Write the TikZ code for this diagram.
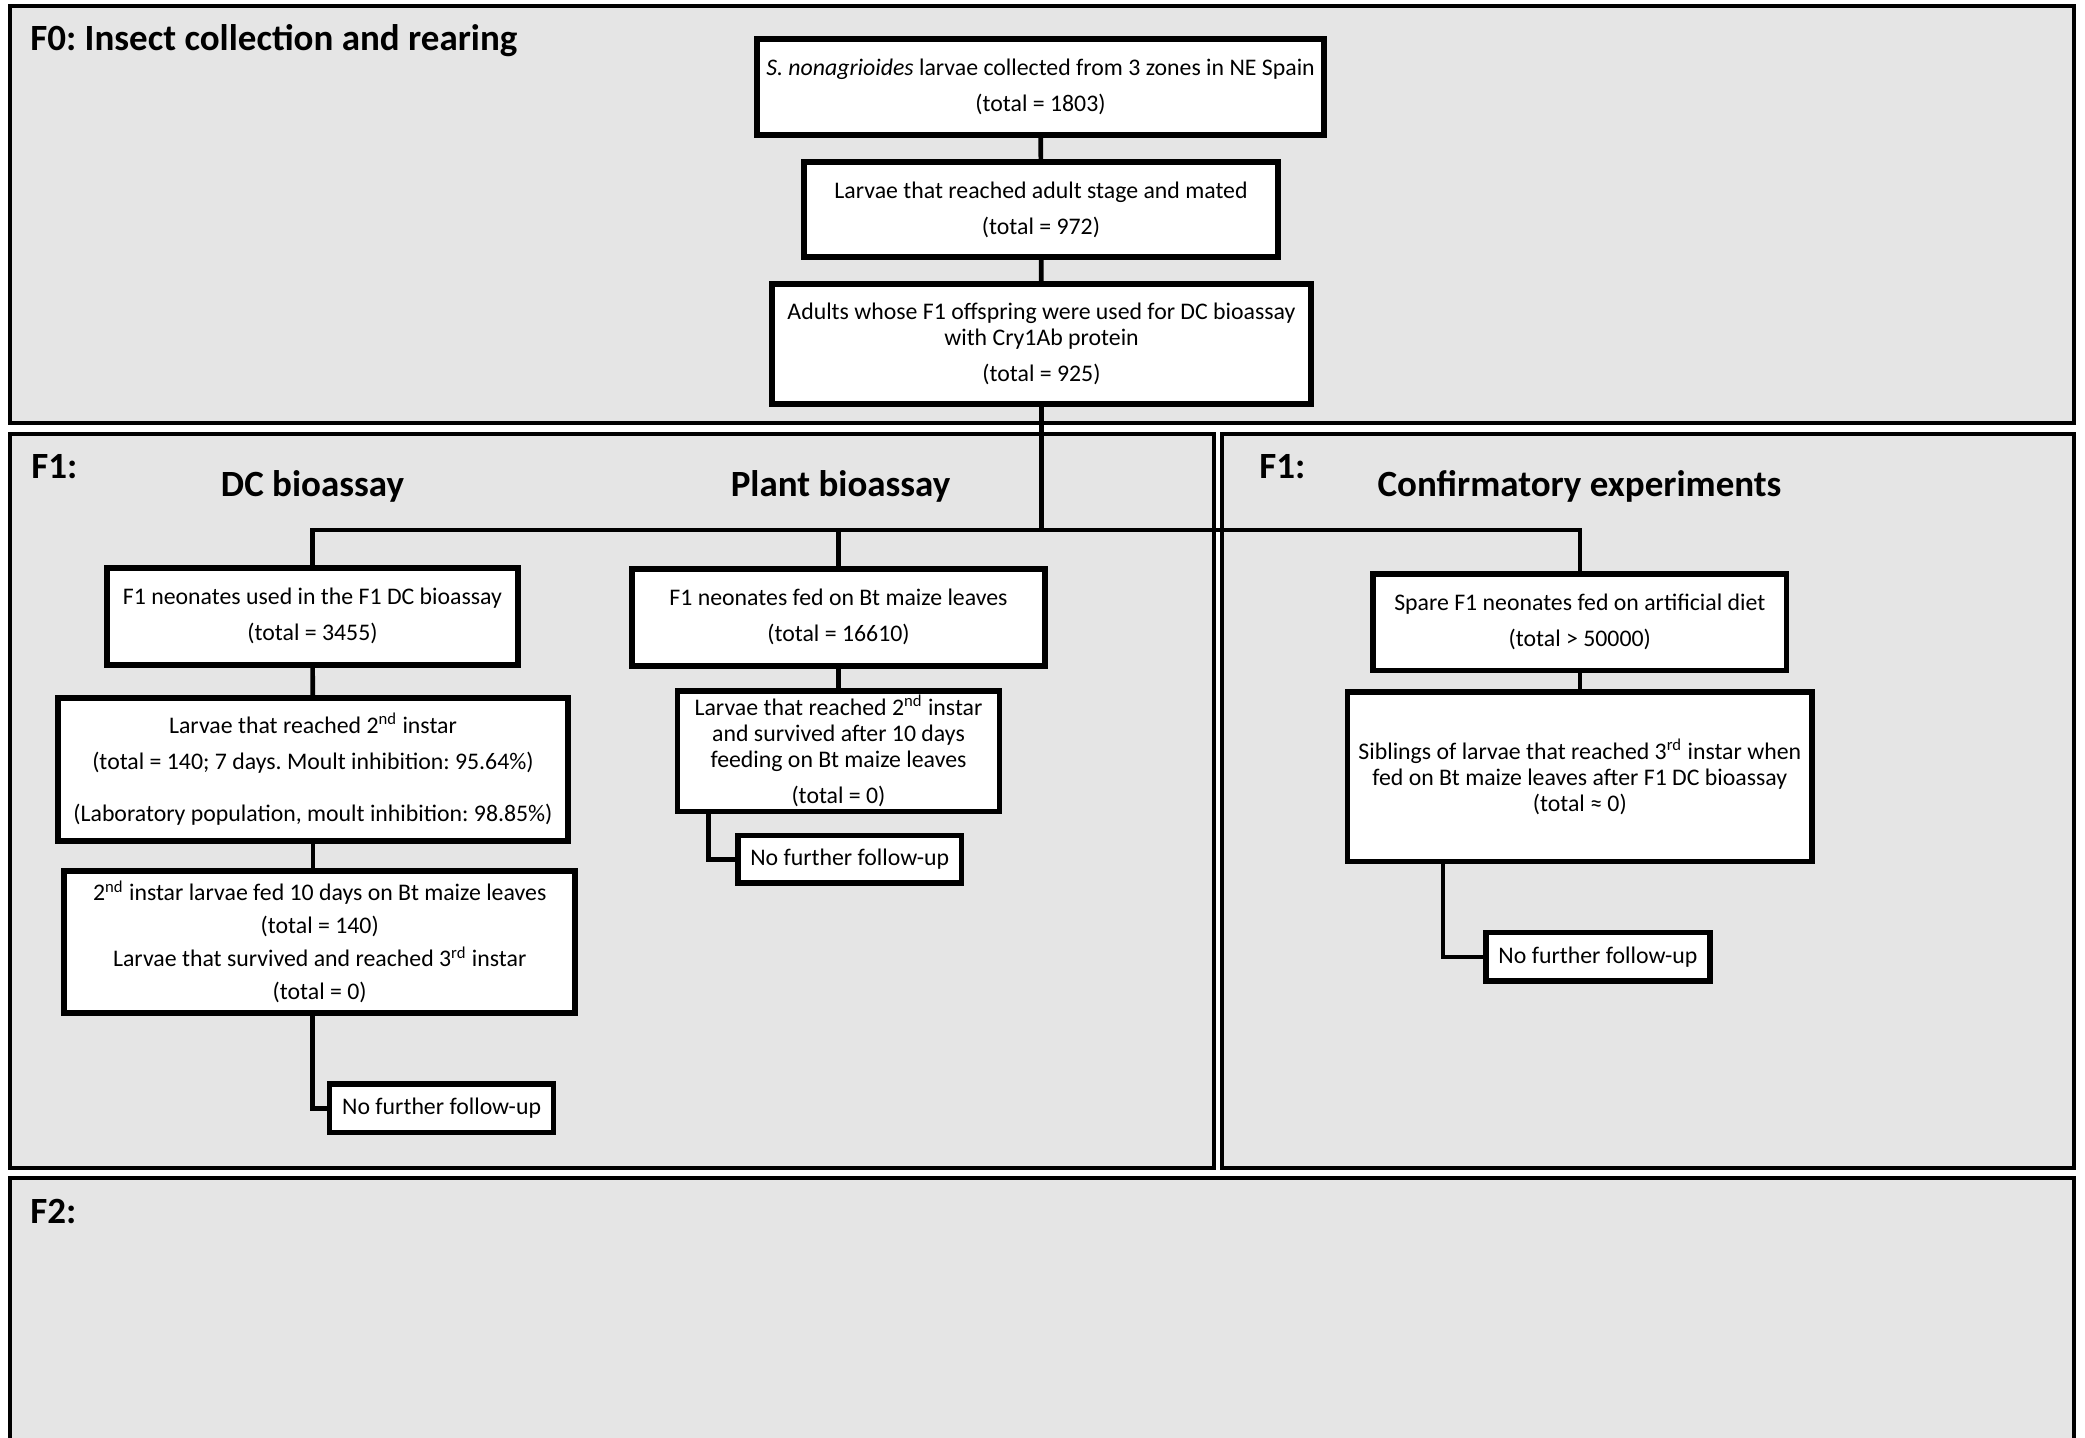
\documentclass[tikz,border=0pt]{standalone}
\usepackage{fontspec}
\setmainfont{Carlito}
\frenchspacing
\definecolor{panelgray}{RGB}{229,229,229}
\tikzset{
 panel/.style={draw,line width=2bp,fill=panelgray},
 box/.style={draw,line width=2.8bp,fill=white,align=center,inner sep=0pt,font=\fontsize{11.9bp}{13bp}\selectfont},
 link/.style={line width=2.3bp},
 head/.style={inner sep=0pt,font=\fontsize{18.5bp}{22bp}\selectfont\bfseries},
}
\begin{document}
\begin{tikzpicture}[x=0.5bp,y=-0.5bp]
\clip (0,0) rectangle (2085,1437);
% panels
\draw[panel] (10,6) rectangle (2074,423);
\draw[panel] (10,434) rectangle (1214,1168);
\draw[panel] (1222,434) rectangle (2074,1168);
\draw[panel] (10,1178) rectangle (2074,1470);
\node[head,anchor=base west] (tf0) at (30,51) {F0: Insect collection and rearing};
\node[head,anchor=base west] (tf1a) at (31,478) {F1:};
\node[head,anchor=base] (tdc) at (312.5,496) {DC bioassay};
\node[head,anchor=base] (tplant) at (840.5,496) {Plant bioassay};
\node[head,anchor=base west] (tf1b) at (1259,478) {F1:};
\node[head,anchor=base] (tconf) at (1579.5,496) {Confirmatory experiments};
\node[head,anchor=base west] (tf2) at (30,1223) {F2:};
% F0 boxes
\node[box,minimum width=283.5bp,minimum height=48bp] (col) at (1040.5,87)
 {\textit{S. nonagrioides} larvae collected from 3 zones in NE Spain\\[5bp] (total = 1803)};
\node[box,minimum width=237bp,minimum height=47.5bp] (mated) at (1041,209.5)
 {Larvae that reached adult stage and mated\\[5bp] (total = 972)};
\node[box,minimum width=269.5bp,minimum height=60bp] (adults) at (1041.5,344)
 {Adults whose F1 offspring were used for DC bioassay\\ with Cry1Ab protein\\[5bp] (total = 925)};
% DC bioassay
\node[box,minimum width=205.5bp,minimum height=48.5bp] (dc1) at (312.5,616.2)
 {F1 neonates used in the F1 DC bioassay\\[5bp] (total = 3455)};
\node[box,minimum width=255bp,minimum height=71.5bp] (dc2) at (313,769.2)
 {Larvae that reached 2\textsuperscript{nd} instar\\[5bp] (total = 140; 7 days. Moult inhibition: 95.64\%)\\[13bp] (Laboratory population, moult inhibition: 98.85\%)};
\node[box,minimum width=255.5bp,minimum height=71bp] (dc3) at (319.7,941.8)
 {2\textsuperscript{nd} instar larvae fed 10 days on Bt maize leaves\\[3.5bp] (total = 140)\\[3.5bp] Larvae that survived and reached 3\textsuperscript{rd} instar\\[3.5bp] (total = 0)};
\node[box,minimum width=112bp,minimum height=24.3bp] (dcend) at (441.6,1108.3) {No further follow-up};
% plant bioassay
\node[box,minimum width=206.5bp,minimum height=48.5bp] (pl1) at (838.5,617.3)
 {F1 neonates fed on Bt maize leaves\\[5bp] (total = 16610)};
\node[box,minimum width=161bp,minimum height=60.3bp] (pl2) at (838.5,751)
 {Larvae that reached 2\textsuperscript{nd} instar\\ and survived after 10 days\\ feeding on Bt maize leaves\\[5bp] (total = 0)};
\node[box,minimum width=111.7bp,minimum height=23.9bp] (plend) at (849.7,859.2) {No further follow-up};
% confirmatory
\node[box,minimum width=206.8bp,minimum height=48.3bp] (cf1) at (1579.8,622)
 {Spare F1 neonates fed on artificial diet\\[5bp] (total > 50000)};
\node[box,minimum width=232.2bp,minimum height=84.7bp] (cf2) at (1579.8,776.7)
 {Siblings of larvae that reached 3\textsuperscript{rd} instar when\\ fed on Bt maize leaves after F1 DC bioassay\\ (total ≈ 0)};
\node[box,minimum width=112bp,minimum height=24.2bp] (cfend) at (1597.9,956.8) {No further follow-up};
% connectors
\coordinate (bus) at (1041.5,530);
\draw[link] (col) -- (mated);
\draw[link] (mated) -- (adults);
\draw[link] (adults) -- (bus);
\draw[link] (dc1.north) |- (bus) -| (cf1.north);
\draw[link] (pl1.north) -- (pl1.north |- bus);
\draw[link] (dc1) -- (dc2);
\draw[link] (dc2.south) -- (dc2.south |- dc3.north);
\draw[link] (dc3.south -| dc1) |- (dcend.west);
\draw[link] (pl1) -- (pl2);
\draw[link] ([xshift=17bp]pl2.south west) |- (plend.west);
\draw[link] (cf1) -- (cf2);
\draw[link] ([xshift=49bp]cf2.south west) |- (cfend.west);
\end{tikzpicture}
\end{document}
